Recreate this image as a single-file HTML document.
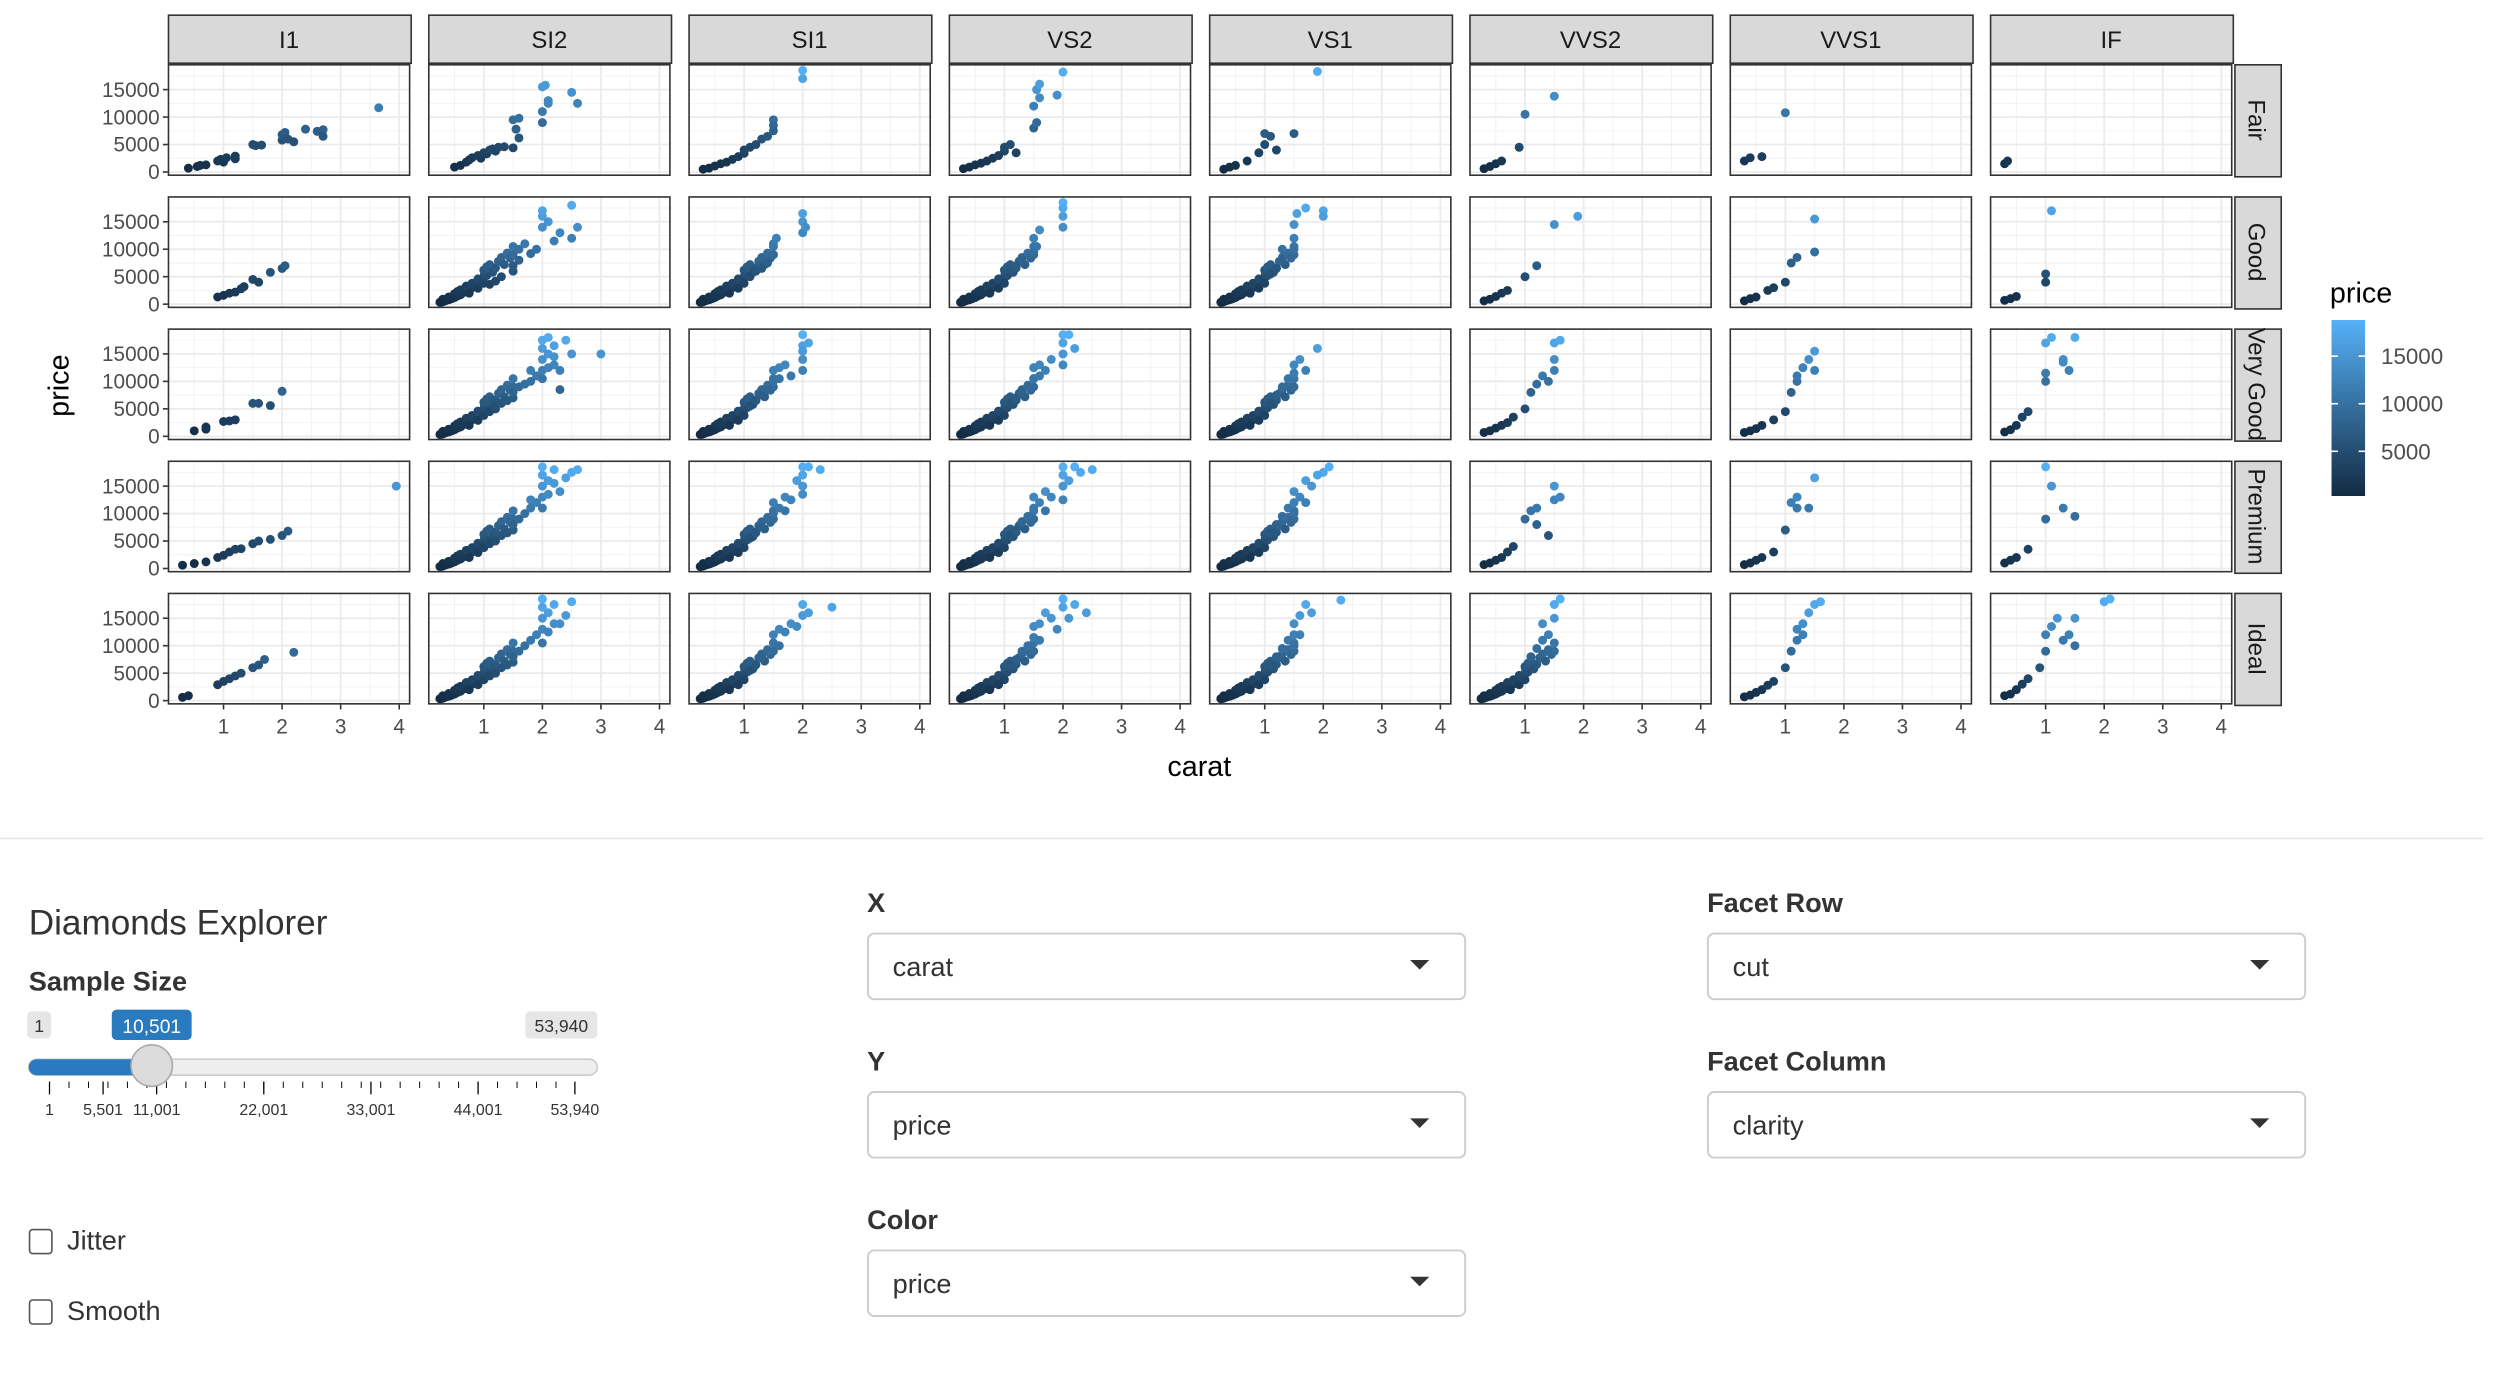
<!DOCTYPE html>
<html><head><meta charset="utf-8"><title>Diamonds Explorer</title>
<style>html,body{margin:0;padding:0;background:#fff;width:2504px;height:1380px;overflow:hidden}
svg{display:block;font-family:"Liberation Sans",Arial,sans-serif}</style></head>
<body>
<svg id="root" width="2504" height="1380" viewBox="0 0 1568 862.5" preserveAspectRatio="none" xmlns="http://www.w3.org/2000/svg">
<g id="chart"></g>
<g id="controls">
<line x1="0" y1="524" x2="1555" y2="524" stroke="#e5e5e5" stroke-width="1"/>
<text x="18" y="584" font-size="22" fill="#333">Diamonds Explorer</text>
<text x="18" y="619" font-size="17" font-weight="bold" fill="#333">Sample Size</text>
<rect x="17" y="632" width="15" height="17" rx="3" fill="#e6e6e6"/>
<text x="24.5" y="645" font-size="11" fill="#333" text-anchor="middle">1</text>
<rect x="329" y="632" width="45" height="17" rx="3" fill="#e6e6e6"/>
<text x="351.5" y="645" font-size="11" fill="#333" text-anchor="middle">53,940</text>
<rect x="70" y="631" width="50" height="19" rx="3" fill="#2a7ac0"/>
<text x="95" y="645.5" font-size="12" fill="#fff" text-anchor="middle">10,501</text>
<rect x="18" y="662" width="356" height="10" rx="5" fill="#eee" stroke="#ccc" stroke-width="1"/>
<rect x="18" y="662" width="77" height="10" rx="5" fill="#2a7ac0"/>
<g id="sticks"></g>
<circle cx="95" cy="666" r="13" fill="#dcdcdc" stroke="#aaa" stroke-width="1"/>
<rect x="18.5" y="768.5" width="14" height="15" rx="2" fill="#fff" stroke="#555" stroke-width="1"/>
<text x="42" y="781" font-size="17" fill="#333">Jitter</text>
<rect x="18.5" y="812.5" width="14" height="15" rx="2" fill="#fff" stroke="#555" stroke-width="1"/>
<text x="42" y="825" font-size="17" fill="#333">Smooth</text>
<g id="selects"></g>
</g>
</svg>
<script>
const NS="http://www.w3.org/2000/svg";
const clarities=["I1","SI2","SI1","VS2","VS1","VVS2","VVS1","IF"];
const cuts=["Fair","Good","Very Good","Premium","Ideal"];
const yTicks=[0,5000,10000,15000];
const xTicks=[1,2,3,4];
const legendTicks=[5000,10000,15000];
const sliderMajor=[1,5501,11001,22001,33001,44001,53940];
const sliderMajorLabels=["1","5,501","11,001","22,001","33,001","44,001","53,940"];
const lowCurve="0.25:350 0.28:400 0.3:450 0.32:550 0.35:650 0.4:800 0.42:900 0.45:1000 0.5:1200 0.52:1400 0.55:1500 0.6:1700 0.62:1900 0.7:2200 0.72:2500 0.75:2700 0.8:3000 0.85:3400 0.9:3800 0.92:4200 1.0:4800 1.01:5500 1.05:5200 0.3:900 0.4:1300 0.5:1900 0.55:2300 0.6:2600 0.7:3300 0.75:2000 0.8:3800 0.9:4600 0.9:2900 1.0:3800 1.0:6200 1.05:6800 1.1:7200 1.15:5800 1.2:6600 1.25:7800 1.3:8500 1.35:7200 1.4:9300 1.45:8400 1.5:10500 1.5:9000";
const fairPts=[
"0.4:700 0.55:1000 0.6:1200 0.7:1300 0.9:2000 0.95:2300 1.0:1800 1.05:2600 1.2:2400 1.2:2900 1.5:5000 1.55:4800 1.65:4900 2.0:5800 2.0:6800 2.05:7200 2.1:6000 2.2:5500 2.4:7800 2.6:7400 2.7:7700 2.7:6500 3.65:11700",
"0.5:900 0.6:1200 0.7:1800 0.75:2200 0.8:2600 0.9:3000 0.95:2500 1.0:3500 1.05:3300 1.1:4000 1.15:4200 1.2:3800 1.25:4500 1.35:4600 1.5:4400 1.5:9500 1.6:9800 1.55:7800 1.6:6200 2.0:15500 2.05:15800 2.0:11000 2.0:9000 2.1:12500 2.1:13000 2.5:14500 2.6:12500",
"0.3:500 0.4:700 0.5:1100 0.6:1500 0.7:1800 0.8:2300 0.9:2800 1.0:3400 1.0:4000 1.1:4500 1.2:5000 1.3:6000 1.4:6500 1.5:7500 1.5:9500 1.5:8500 2.0:17000 2.0:18500",
"0.3:600 0.4:900 0.5:1300 0.6:1600 0.7:2000 0.8:2500 0.9:3000 1.0:3800 1.0:4500 1.1:5000 1.2:3500 1.5:8000 1.55:9000 1.5:12000 1.6:13500 1.55:15000 1.6:16000 2.0:18200 1.9:14000",
"0.3:500 0.4:900 0.5:1200 0.7:2000 0.9:3500 1.0:5000 1.0:7000 1.1:6500 1.2:4000 1.5:7000 1.9:18300",
"0.3:600 0.4:1000 0.5:1500 0.6:2000 0.9:4500 1.0:10500 1.5:13800",
"0.3:2000 0.4:2600 0.6:2800 1.0:10800",
"0.3:1500 0.35:2000"];
const goodPts=[
"0.9:1300 1.0:1600 1.1:2000 1.2:2200 1.3:2800 1.35:3200 1.5:4500 1.6:4000 1.8:5800 2.0:6500 2.05:7000",
"LOW 1.1:3600 1.2:4200 1.3:5000 1.5:6000 1.5:7000 1.6:8000 1.6:10000 1.7:11000 1.8:9200 1.9:10000 2.0:14000 2.0:16000 2.0:17000 2.1:15000 2.2:11500 2.3:13000 2.5:12000 2.5:18000 2.6:14000",
"LOW 1.1:5000 1.2:6000 1.3:6500 1.4:7500 1.5:9000 1.5:11000 1.55:12000 2.0:13000 2.0:15000 2.0:16500 2.05:14000",
"LOW 1.1:6500 1.2:7000 1.3:8000 1.5:9500 1.5:12000 1.6:13500 1.55:10500 2.0:14000 2.0:16000 2.0:18500 2.0:17500",
"LOW 1.1:5500 1.2:6500 1.3:8000 1.5:10000 1.5:12000 1.5:14500 1.55:16500 1.7:17500 2.0:17000 2.0:16000 1.3:10000",
"0.3:600 0.4:900 0.5:1400 0.6:2000 0.7:2500 1.0:5000 1.2:7000 1.5:14500 1.9:16000",
"0.3:600 0.4:1000 0.5:1300 0.7:2500 0.8:3000 1.0:4000 1.1:7500 1.2:8500 1.5:9500 1.5:15500",
"0.3:700 0.4:1000 0.5:1400 1.0:5500 1.0:4000 1.1:17000"];
const veryGoodPts=[
"0.5:1000 0.7:1300 0.7:1700 1.0:2700 1.1:2800 1.2:3000 1.5:6000 1.6:6000 1.8:5600 2.0:8200",
"LOW 1.1:4500 1.2:5000 1.2:5500 1.3:6000 1.4:6500 1.5:7000 1.5:8000 1.6:9000 1.7:9500 1.8:10000 1.8:12000 1.9:11000 2.0:12000 2.0:14000 2.0:16000 2.0:17500 2.1:15000 2.1:18000 2.2:13000 2.2:16500 2.3:12000 2.4:17500 2.5:15000 3.0:15000 2.3:8500 2.0:10500 2.1:12500 2.2:14500",
"LOW 1.1:5500 1.2:6500 1.3:7500 1.4:8500 1.5:10000 1.5:12000 1.6:12500 1.7:13000 1.8:11000 2.0:14000 2.0:16500 2.0:18500 2.1:17000 2.0:12000 1.6:10500 2.0:15500",
"LOW 1.1:6000 1.2:7000 1.3:8000 1.4:9000 1.5:10500 1.5:12500 1.6:13000 1.7:12000 2.0:15000 2.0:17000 2.0:18500 2.1:18500 2.2:16000 1.8:14000 1.6:11000 2.0:13000",
"LOW 1.1:6000 1.2:7500 1.3:9000 1.4:10500 1.5:11500 1.5:13000 1.6:14000 1.7:12000 1.9:16000",
"0.3:700 0.4:1000 0.5:1500 0.6:2000 0.7:2500 0.8:3500 1.0:5000 1.1:8000 1.2:9500 1.3:11000 1.5:12000 1.5:14000 1.5:17000 1.6:17500 1.4:10000",
"0.3:700 0.4:1000 0.5:1400 0.6:2000 0.8:3000 1.0:4500 1.1:8000 1.2:10000 1.2:11000 1.3:12500 1.5:12000 1.5:15500 1.4:14000",
"0.3:800 0.4:1200 0.5:2000 0.6:3500 0.7:4500 1.0:10000 1.0:11500 1.0:17000 1.1:18000 1.3:14000 1.3:13500 1.4:12000 1.5:18000"];
const premiumPts=[
"0.3:600 0.5:900 0.7:1200 0.9:2000 1.0:2400 1.1:3000 1.2:3500 1.3:3600 1.5:4500 1.6:5000 1.8:5300 2.0:6000 2.1:6800 3.95:15000",
"LOW 1.1:4500 1.2:5000 1.3:6000 1.4:6500 1.5:7000 1.5:8000 1.6:9000 1.7:10000 1.8:11000 1.9:12000 2.0:13000 2.0:15000 2.0:17000 2.0:18500 2.1:16000 2.2:18000 2.3:14000 2.4:16500 2.5:17500 2.6:18000 2.0:11000 2.1:13500 2.2:15500 1.8:12500",
"LOW 1.1:5500 1.2:6500 1.3:7500 1.4:9000 1.5:10000 1.5:12000 1.6:11000 1.7:13000 1.8:12500 2.0:15000 2.0:17000 2.0:18500 2.1:18500 2.3:18000 1.9:16000 1.7:10500 2.0:13500",
"LOW 1.1:6000 1.2:7000 1.3:8500 1.4:9500 1.5:11000 1.5:13000 1.6:12000 1.7:14000 1.8:13000 2.0:15000 2.0:17000 2.0:18500 2.2:18500 2.3:17500 2.5:18000 1.7:10500 2.0:12500 2.1:16000",
"LOW 1.1:6500 1.2:8000 1.3:9500 1.4:11000 1.5:12000 1.5:14000 1.6:13000 1.7:16000 1.8:15000 2.0:17500 2.1:18500 1.9:17000 1.5:10000 1.7:12000",
"0.3:700 0.4:1000 0.5:1500 0.6:2000 0.7:3000 0.8:4000 1.0:9000 1.1:10500 1.2:11000 1.5:12500 1.5:15000 1.6:13000 1.2:8000 1.4:6000",
"0.3:700 0.4:1000 0.5:1500 0.6:2000 0.8:3000 1.0:7000 1.1:12000 1.2:11000 1.2:13000 1.4:11000 1.5:16500",
"0.3:1000 0.4:1500 0.5:2000 0.7:3500 1.0:18500 1.0:9000 1.1:15000 1.3:11000 1.5:9500"];
const idealPts=[
"0.3:600 0.4:900 0.9:2900 1.0:3500 1.1:4000 1.2:4500 1.3:5000 1.5:6000 1.6:6500 1.7:7500 2.2:8800",
"LOW 1.1:4500 1.2:5000 1.3:6000 1.4:6500 1.5:7000 1.5:8000 1.6:9000 1.7:10000 1.8:11000 1.9:12000 2.0:13000 2.0:15000 2.0:17000 2.0:18500 2.1:16000 2.2:17500 2.3:14000 2.4:15500 2.5:18000 2.0:10500 2.1:12500 2.2:14000",
"LOW 1.1:5500 1.2:6500 1.3:8000 1.4:9000 1.5:10500 1.5:12000 1.6:13000 1.7:12500 1.8:14000 2.0:15500 2.0:17500 2.1:16000 2.5:17000 1.9:13500 1.6:10000",
"LOW 1.1:6500 1.2:7500 1.3:9000 1.4:10000 1.5:11500 1.5:13500 1.6:14000 1.7:16000 1.8:15000 2.0:17000 2.0:18500 2.2:17500 2.4:16000 1.9:13000 1.6:11000 2.1:15000",
"LOW 1.1:6500 1.2:8000 1.3:9500 1.4:11000 1.5:12000 1.5:14000 1.6:15500 1.7:17500 1.8:16000 2.3:18300 1.6:12000 1.5:10000",
"LOW 1.1:8000 1.2:9500 1.3:11000 1.4:12000 1.5:15000 1.5:17500 1.6:18500 1.3:14000 1.4:9000",
"0.3:700 0.4:1000 0.5:1500 0.6:2000 0.7:2800 0.8:3500 1.0:6000 1.1:9000 1.2:11000 1.3:12000 1.3:14000 1.4:16000 1.5:17500 1.6:18000 1.2:13000",
"0.3:900 0.4:1200 0.5:2000 0.6:3000 0.7:4000 0.9:6000 1.0:9000 1.0:12000 1.1:13500 1.2:15000 1.3:11000 1.4:12000 1.5:15000 1.5:10000 2.0:18000 2.1:18500"];
const allCuts=[fairPts,goodPts,veryGoodPts,premiumPts,idealPts];

const chart=document.getElementById('chart');
function mk(tag,attrs,parent,txt){const e=document.createElementNS(NS,tag);for(const k in attrs)e.setAttribute(k,attrs[k]);if(txt!==undefined)e.textContent=txt;(parent||chart).appendChild(e);return e;}
const PW=152,PH=70;
const colLeft=i=>105+i*163;
const rowTop=j=>40+j*82.6;
const xs=(l,c)=>l-1.7+c*36.67;
const ys=(t,p)=>t+67.5-p*0.003433;
const pmin=300,pmax=18800;
function col(p){const t=Math.max(0,Math.min(1,(p-pmin)/(pmax-pmin)));const a=[0x13,0x2B,0x43],b=[0x56,0xB1,0xF7];return`rgb(${a.map((v,i)=>Math.round(v+(b[i]-v)*t)).join(',')})`;}
function parse(s){return s.replace('LOW',lowCurve).trim().split(/\s+/).map(x=>x.split(':').map(Number));}

clarities.forEach((cl,i)=>{
  const g=mk('g',{});
  
  
  mk('rect',{x:colLeft(i)+0.5,y:9.5,width:PW,height:30,fill:'#d9d9d9',stroke:'#333','stroke-width':1},g);
  mk('text',{x:colLeft(i)+PW/2,y:30,'font-size':15,fill:'#1a1a1a','text-anchor':'middle'},g,cl);
});
cuts.forEach((cu,j)=>{
  const g=mk('g',{});
  
  
  const t=rowTop(j);
  mk('rect',{x:1399.5,y:t+0.5,width:29,height:PH,fill:'#d9d9d9',stroke:'#333','stroke-width':1},g);
  mk('text',{x:1408,y:t+PH/2,'font-size':15,fill:'#1a1a1a','text-anchor':'middle',transform:`rotate(90 1408 ${t+PH/2})`},g,cu);
});
cuts.forEach((cu,j)=>{
  clarities.forEach((cl,i)=>{
    const l=colLeft(i),t=rowTop(j);
    const g=mk('g',{});
    
    
    mk('rect',{x:l,y:t,width:PW,height:PH,fill:'#fff'},g);
    for(let c=0.5;c<4.2;c+=1){mk('line',{x1:xs(l,c),x2:xs(l,c),y1:t,y2:t+PH,stroke:'#f2f2f2','stroke-width':0.6},g);}
    for(let p=2500;p<20000;p+=5000){mk('line',{x1:l,x2:l+PW,y1:ys(t,p),y2:ys(t,p),stroke:'#f2f2f2','stroke-width':0.6},g);}
    xTicks.forEach(c=>mk('line',{x1:xs(l,c),x2:xs(l,c),y1:t,y2:t+PH,stroke:'#ebebeb','stroke-width':1.1},g));
    yTicks.forEach(p=>mk('line',{x1:l,x2:l+PW,y1:ys(t,p),y2:ys(t,p),stroke:'#ebebeb','stroke-width':1.1},g));
    parse(allCuts[j][i]).forEach(([c,p])=>{
      const d=mk('circle',{cx:xs(l,c),cy:ys(t,p),r:2.8,fill:col(p)},g);
      
      
    });
    mk('rect',{x:l+0.5,y:t+0.5,width:PW-1,height:PH-1,fill:'none',stroke:'#333','stroke-width':1},g);
    if(i===0){yTicks.forEach(p=>{const y=ys(t,p);mk('line',{x1:l-3,x2:l,y1:y,y2:y,stroke:'#333','stroke-width':1},g);
      const tl=mk('text',{x:l-5,y:y+4.5,'font-size':13,fill:'#4d4d4d','text-anchor':'end'},g,String(p));
      });}
    if(j===cuts.length-1){xTicks.forEach(c=>{const x=xs(l,c);mk('line',{x1:x,x2:x,y1:t+PH,y2:t+PH+3,stroke:'#333','stroke-width':1},g);
      const tl=mk('text',{x:x,y:t+PH+18,'font-size':13,fill:'#4d4d4d','text-anchor':'middle'},g,String(c));
      });}
  });
});
const xt=mk('text',{x:751,y:485,'font-size':18,fill:'#000','text-anchor':'middle'},chart,'carat');

const yt=mk('text',{x:43,y:241,'font-size':18,fill:'#000','text-anchor':'middle',transform:'rotate(-90 43 241)'},chart,'price');

const lg=mk('g',{});

mk('text',{x:1459,y:189,'font-size':18,fill:'#000'},lg,'price');
const defs=mk('defs',{},lg);const gr=mk('linearGradient',{id:'lgrad',x1:0,y1:1,x2:0,y2:0},defs);
mk('stop',{offset:0,'stop-color':'#132B43'},gr);mk('stop',{offset:1,'stop-color':'#56B1F7'},gr);
const lb0=310,lb1=200,lpy=p=>lb0-(p-pmin)/(pmax-pmin)*(lb0-lb1);
mk('rect',{x:1460,y:lb1,width:21,height:lb0-lb1,fill:'url(#lgrad)'},lg);
legendTicks.forEach(p=>{const y=lpy(p);mk('line',{x1:1460,x2:1464,y1:y,y2:y,stroke:'#fff'},lg);mk('line',{x1:1477,x2:1481,y1:y,y2:y,stroke:'#fff'},lg);
  mk('text',{x:1491,y:y+5,'font-size':14,fill:'#4d4d4d'},lg,String(p));});
const st=document.getElementById('sticks');
const sx=v=>31+(v-1)/(53940-1)*(360-31);
for(let k=0;k<=27;k++){const v=1+k*2000;if(v>53940)break;mk('line',{x1:sx(v),x2:sx(v),y1:676,y2:680,stroke:'#000','stroke-width':0.6},st);}
sliderMajor.forEach((v,k)=>{const x=sx(v);mk('line',{x1:x,x2:x,y1:676,y2:684,stroke:'#000','stroke-width':0.8},st);
  mk('text',{x:x,y:697,'font-size':10,fill:'#333','text-anchor':'middle'},st,sliderMajorLabels[k]);});
const sel=document.getElementById('selects');
[["X","carat",543,563],["Y","price",543,662],["Color","price",543,761],["Facet Row","cut",1069,563],["Facet Column","clarity",1069,662]].forEach(([lab,val,x,y])=>{
  const g=mk('g',{},sel);
  
  
  mk('text',{x:x,y:y+7,'font-size':17,'font-weight':'bold',fill:'#333'},g,lab);
  mk('rect',{x:x+0.5,y:y+20.5,width:374,height:41,rx:4,fill:'#fff',stroke:'#ccc','stroke-width':1.2},g);
  mk('text',{x:x+16,y:y+47,'font-size':17,fill:'#333'},g,val);
  mk('path',{d:`M${x+340} ${y+37} l12 0 l-6 6 z`,fill:'#333'},g);
});
</script>
</body></html>
